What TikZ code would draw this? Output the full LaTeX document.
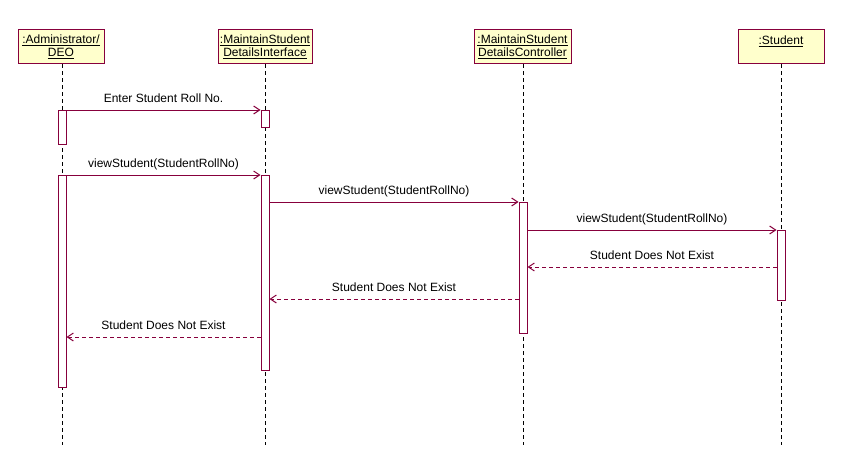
\documentclass[tikz,border=0pt]{standalone}
\usepackage{fontspec}
\setmainfont{Liberation Sans}
\usetikzlibrary{arrows.meta}
\definecolor{uml}{RGB}{135,0,60}
\definecolor{objfill}{RGB}{255,255,204}
\tikzset{
  obj/.style={draw=uml, fill=objfill, line width=1pt, rectangle, inner xsep=1pt, inner ysep=0pt,
    minimum height=34pt, anchor=north, align=center, font=\fontsize{12}{13}\selectfont},
  life/.style={draw=black, line width=0.9pt, dash pattern=on 4pt off 3pt},
  bar/.style={draw=uml, fill=white, line width=1pt, rectangle, inner sep=0pt, minimum width=8pt, anchor=north},
  msg/.style={draw=uml, line width=1pt, -{Straight Barb[length=6pt,width=8pt]}},
  ret/.style={draw=uml, line width=1pt, dash pattern=on 4pt off 3pt, -{Straight Barb[length=6pt,width=8pt]}},
  lbl/.style={midway, anchor=base, yshift=7.5pt, inner sep=0pt, text=black, font=\fontsize{12}{14}\selectfont}
}
\begin{document}
\begin{tikzpicture}[x=1pt,y=-1pt]
\useasboundingbox (0,0) rectangle (849,471);
% objects
\node[obj, minimum width=86pt] (adm) at (61,29) {\underline{:Administrator/}\\\underline{DEO}};
\node[obj, minimum width=94pt] (ifc) at (265,29) {\underline{:MaintainStudent}\\\underline{DetailsInterface}};
\node[obj, minimum width=97pt] (ctl) at (522.5,29) {\underline{:MaintainStudent}\\\underline{DetailsController}};
\node[obj, minimum width=86pt] (stu) at (781,29) {\underline{:Student}\\\mbox{}};
% lifeline ends
\coordinate (admE) at (62,445);
\coordinate (ifcE) at (265.5,445);
\coordinate (ctlE) at (523,445);
\coordinate (stuE) at (781.5,445);
\draw[life] (adm.south -| admE) -- (admE);
\draw[life] (ifc.south -| ifcE) -- (ifcE);
\draw[life] (ctl.south -| ctlE) -- (ctlE);
\draw[life] (stu.south -| stuE) -- (stuE);
% activation bars
\node[bar, minimum height=34pt] (aA1) at (62,110) {};
\node[bar, minimum height=212pt] (aA2) at (62,175) {};
\node[bar, minimum height=17pt] (iA1) at (265,110) {};
\node[bar, minimum height=195pt] (iA2) at (265,175) {};
\node[bar, minimum height=131pt] (cA) at (523,202) {};
\node[bar, minimum height=70pt] (sA) at (781,230) {};
% return levels
\coordinate (r1) at (0,267);
\coordinate (r2) at (0,299);
\coordinate (r3) at (0,337);
% messages
\draw[msg] (aA1.north east) -- node[lbl] {Enter Student Roll No.} (iA1.north west);
\draw[msg] (aA2.north east) -- node[lbl] {viewStudent(StudentRollNo)} (iA2.north west);
\draw[msg] (iA2.east |- cA.north) -- node[lbl] {viewStudent(StudentRollNo)} (cA.north west);
\draw[msg] (cA.east |- sA.north) -- node[lbl] {viewStudent(StudentRollNo)} (sA.north west);
\draw[ret] (sA.west |- r1) -- node[lbl] {Student Does Not Exist} (cA.east |- r1);
\draw[ret] (cA.west |- r2) -- node[lbl] {Student Does Not Exist} (iA2.east |- r2);
\draw[ret] (iA2.west |- r3) -- node[lbl] {Student Does Not Exist} (aA2.east |- r3);
\end{tikzpicture}
\end{document}
